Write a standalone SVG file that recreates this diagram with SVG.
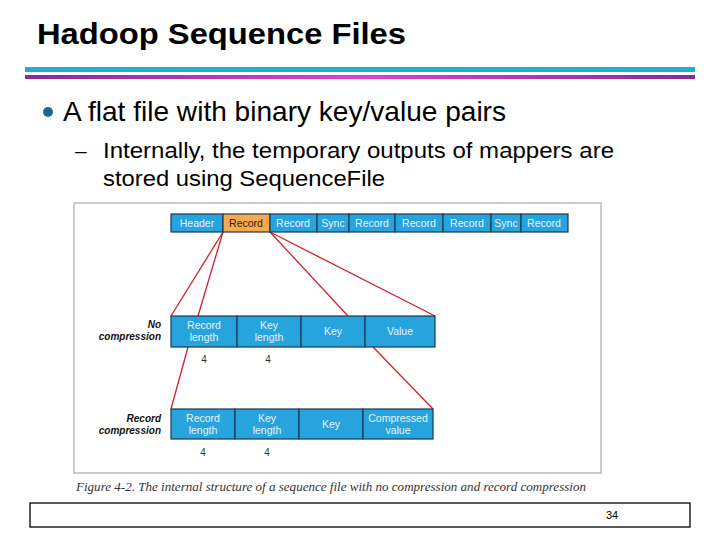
<svg xmlns="http://www.w3.org/2000/svg" width="720" height="540" viewBox="0 0 720 540">
<style>
.c{fill:#27a3dd;stroke:#1a3a55;stroke-width:1.2}
.o{fill:#f9a94b;stroke:#1a3a55;stroke-width:1.2}
.t{font-family:"Liberation Sans Narrow","Liberation Sans",sans-serif;font-size:10.5px;fill:#e8f4fb;text-anchor:middle}
.l{stroke:#d0212e;stroke-width:1.3;fill:none}
.n{font-family:"Liberation Sans",sans-serif;font-size:10px;fill:#333;text-anchor:middle}
.lb{font-family:"Liberation Sans Narrow","Liberation Sans",sans-serif;font-size:10px;font-weight:bold;font-style:italic;fill:#111;text-anchor:end}
.b{font-family:"Liberation Sans",sans-serif;fill:#000}
</style>
<defs><linearGradient id="g"><stop offset="0" stop-color="#8a2a9a"/><stop offset="0.5" stop-color="#e040d0"/><stop offset="1" stop-color="#8a2a9a"/></linearGradient></defs>
<rect width="720" height="540" fill="#fff"/>
<text class="b" x="37" y="44" font-weight="bold" font-size="30" textLength="369" lengthAdjust="spacingAndGlyphs">Hadoop Sequence Files</text>
<rect x="25" y="67" width="670" height="5" fill="#1fb0d0"/>
<rect x="25" y="75" width="670" height="4" fill="url(#g)"/>
<circle cx="48" cy="112" r="5" fill="#1a6a8a"/>
<text class="b" x="63" y="121" font-size="28" textLength="443" lengthAdjust="spacingAndGlyphs">A flat file with binary key/value pairs</text>
<text class="b" x="75" y="158" font-size="21">–</text>
<text class="b" x="103" y="158" font-size="22" textLength="511" lengthAdjust="spacingAndGlyphs">Internally, the temporary outputs of mappers are</text>
<text class="b" x="103" y="186" font-size="22" textLength="282" lengthAdjust="spacingAndGlyphs">stored using SequenceFile</text>
<rect x="74" y="203" width="527" height="270" fill="#fff" stroke="#999" stroke-width="1"/>
<g id="connectors">
<line class="l" x1="223" y1="232" x2="171" y2="316"/>
<line class="l" x1="223" y1="232" x2="198" y2="316"/>
<line class="l" x1="270" y1="232" x2="348" y2="316"/>
<line class="l" x1="270" y1="232" x2="435" y2="316"/>
<line class="l" x1="188" y1="347" x2="171" y2="409"/>
<line class="l" x1="373" y1="347" x2="433" y2="409"/>
</g>
<g id="file">
<rect class="c" x="171" y="214" width="52" height="18"/><text class="t" x="197" y="227">Header</text>
<rect class="o" x="223" y="214" width="47" height="18"/><text class="t" x="246" y="227" style="fill:#222">Record</text>
<rect class="c" x="270" y="214" width="47" height="18"/><text class="t" x="293" y="227">Record</text>
<rect class="c" x="317" y="214" width="32" height="18"/><text class="t" x="333" y="227">Sync</text>
<rect class="c" x="349" y="214" width="46" height="18"/><text class="t" x="372" y="227">Record</text>
<rect class="c" x="395" y="214" width="48" height="18"/><text class="t" x="419" y="227">Record</text>
<rect class="c" x="443" y="214" width="48" height="18"/><text class="t" x="467" y="227">Record</text>
<rect class="c" x="491" y="214" width="30" height="18"/><text class="t" x="506" y="227">Sync</text>
<rect class="c" x="521" y="214" width="47" height="18"/><text class="t" x="544" y="227">Record</text>
</g>
<g id="nocomp">
<text class="lb" x="161" y="328">No</text><text class="lb" x="161" y="340">compression</text>
<rect class="c" x="171" y="316" width="66" height="31"/><text class="t" x="204" y="329">Record</text><text class="t" x="204" y="341">length</text>
<rect class="c" x="237" y="316" width="64" height="31"/><text class="t" x="269" y="329">Key</text><text class="t" x="269" y="341">length</text>
<rect class="c" x="301" y="316" width="64" height="31"/><text class="t" x="333" y="335">Key</text>
<rect class="c" x="365" y="316" width="70" height="31"/><text class="t" x="400" y="335">Value</text>
<text class="n" x="204" y="363">4</text><text class="n" x="268" y="363">4</text>
</g>
<g id="reccomp">
<text class="lb" x="161" y="422">Record</text><text class="lb" x="161" y="434">compression</text>
<rect class="c" x="171" y="409" width="64" height="30"/><text class="t" x="203" y="422">Record</text><text class="t" x="203" y="434">length</text>
<rect class="c" x="235" y="409" width="64" height="30"/><text class="t" x="267" y="422">Key</text><text class="t" x="267" y="434">length</text>
<rect class="c" x="299" y="409" width="64" height="30"/><text class="t" x="331" y="428">Key</text>
<rect class="c" x="363" y="409" width="70" height="30"/><text class="t" x="398" y="422">Compressed</text><text class="t" x="398" y="434">value</text>
<text class="n" x="203" y="456">4</text><text class="n" x="267" y="456">4</text>
</g>
<text x="76" y="491" font-family="Liberation Serif,serif" font-style="italic" font-size="11.5" fill="#333" textLength="510" lengthAdjust="spacingAndGlyphs">Figure 4-2. The internal structure of a sequence file with no compression and record compression</text>
<rect x="30" y="503" width="660" height="24" fill="#fff" stroke="#000" stroke-width="1.3"/>
<text x="612" y="519" font-family="Liberation Sans,sans-serif" font-size="11" fill="#000" text-anchor="middle">34</text>
</svg>
